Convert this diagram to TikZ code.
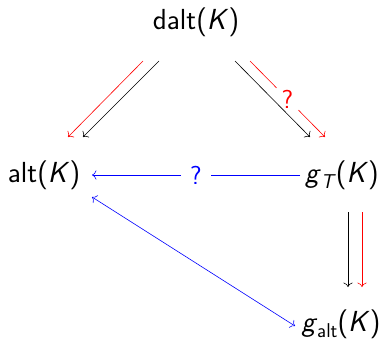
\documentclass[tikz,border=0pt]{standalone}
\usetikzlibrary{arrows.meta,calc}
\usepackage{xcolor}
\newcommand{\subtx}[1]{\raisebox{-0.22em}{\fontsize{20}{22}\selectfont #1}}
\begin{document}
\begin{tikzpicture}[x=1pt,y=-1pt,
  lbl/.style={inner sep=0pt, font=\fontsize{29}{33}\selectfont\sffamily},
  ar/.style={-{To[scale=1.5]}, line width=0.6pt},
  qm/.style={inner sep=0pt, font=\fontsize{26}{30}\selectfont\sffamily}]
\useasboundingbox (0,0) rectangle (391,340);
\node[lbl] (dalt) at (196,22) {dalt(\textit{K}\/)};
\node[lbl] (alt) at (44,175) {alt(\textit{K}\/)};
\node[lbl] (gT) at (342,175) {\textit{g}\subtx{\textit{T}}(\textit{K}\/)};
\node[lbl] (galt) at (341,324) {\textit{g}\subtx{alt}(\textit{K}\/)};
% left pair
\coordinate (lb1) at (159,61); \coordinate (lb2) at (83,137);
\coordinate (lr1) at (143,61); \coordinate (lr2) at (68,137);
\draw[ar, black] (lb1) -- (lb2);
\draw[ar, red] (lr1) -- (lr2);
% right pair
\coordinate (rb1) at (235,61); \coordinate (rb2) at (310,137);
\coordinate (rr1) at (250,61); \coordinate (rr2) at (325,137);
\draw[ar, black] (rb1) -- (rb2);
\node[qm, red, inner xsep=5pt, inner ysep=4pt] (q1) at ($(rr1)!0.5!(rr2)$) {?};
\draw[line width=0.6pt, red] (rr1) -- (q1);
\draw[ar, red] (q1) -- (rr2);
% blue horizontal
\coordinate (h1) at (300,175); \coordinate (h2) at (92,175);
\node[qm, blue, inner xsep=9pt, inner ysep=2pt] (q2) at ($(h1)!0.5!(h2)$) {?};
\draw[line width=0.6pt, blue] (h1) -- (q2);
\draw[ar, blue] (q2) -- (h2);
% vertical
\coordinate (vb1) at (348,212); \coordinate (vb2) at (348,287);
\coordinate (vr1) at (362,212); \coordinate (vr2) at (362,287);
\draw[ar, black] (vb1) -- (vb2);
\draw[ar, red] (vr1) -- (vr2);
% blue diagonal
\coordinate (d1) at (92,197); \coordinate (d2) at (295,326);
\draw[{To[scale=1.5]}-{To[scale=1.5]}, line width=0.6pt, blue] (d1) -- (d2);
\end{tikzpicture}
\end{document}
